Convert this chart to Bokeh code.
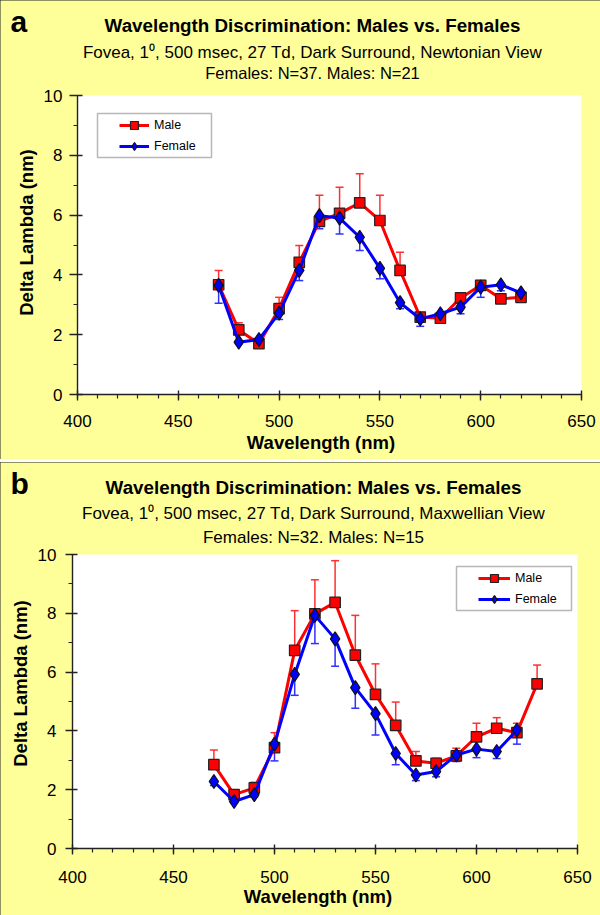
import math
from bokeh.plotting import figure
from bokeh.models import (BoxAnnotation, Legend, LegendItem, Whisker, TeeHead, Label,
                          ColumnDataSource, SingleIntervalTicker, Range1d)
from bokeh.layouts import column
from bokeh.embed import file_html
from bokeh.resources import INLINE

# ---------------- data ----------------
wavelength_a = [470, 480, 490, 500, 510, 520, 530, 540, 550, 560, 570, 580, 590, 600, 610, 620]
male_a = [3.67, 2.16, 1.70, 2.87, 4.42, 5.79, 6.06, 6.41, 5.82, 4.15, 2.59, 2.55, 3.23, 3.65, 3.20, 3.25]
male_a_err = [0.48, 0.24, 0.05, 0.38, 0.56, 0.87, 0.87, 0.97, 0.84, 0.61, 0.10, 0.10, 0.10, 0.16, 0.05, 0.05]
female_a = [3.65, 1.75, 1.84, 2.72, 4.15, 5.98, 5.90, 5.26, 4.22, 3.07, 2.53, 2.70, 2.92, 3.59, 3.67, 3.40]
female_a_err = [0.60, 0.05, 0.05, 0.21, 0.34, 0.44, 0.53, 0.44, 0.35, 0.20, 0.25, 0.05, 0.22, 0.34, 0.20, 0.05]

wavelength_b_male = [470, 480, 490, 500, 510, 520, 530, 540, 550, 560, 570, 580, 590, 600, 610, 620, 630]
male_b = [2.85, 1.83, 2.06, 3.43, 6.74, 7.98, 8.37, 6.58, 5.24, 4.19, 2.98, 2.90, 3.15, 3.80, 4.09, 3.94, 5.60]
male_b_err = [0.50, 0.05, 0.19, 0.51, 1.35, 1.16, 1.42, 1.35, 1.04, 0.79, 0.32, 0.17, 0.26, 0.46, 0.36, 0.32, 0.64]
wavelength_b_female = [470, 480, 490, 500, 510, 520, 530, 540, 550, 560, 570, 580, 590, 600, 610, 620]
female_b = [2.28, 1.60, 1.83, 3.55, 5.92, 7.93, 7.13, 5.47, 4.59, 3.23, 2.50, 2.62, 3.18, 3.38, 3.30, 4.03]
female_b_err = [0.14, 0.05, 0.08, 0.57, 0.71, 0.96, 0.93, 0.70, 0.73, 0.38, 0.19, 0.18, 0.22, 0.29, 0.24, 0.48]

x_ticks_range = (400, 650)
y_ticks_range = (0, 10)

title_text = "Wavelength Discrimination: Males vs. Females"
subtitle_a = "Fovea, 1\u2070, 500 msec, 27 Td, Dark Surround, Newtonian View"
subtitle_b = "Fovea, 1\u2070, 500 msec, 27 Td, Dark Surround, Maxwellian View"
counts_a = "Females: N=37. Males: N=21"
counts_b = "Females: N=32. Males: N=15"
x_label = "Wavelength (nm)"
y_label = "Delta Lambda (nm)"
series_names = ["Male", "Female"]

FONT = "Liberation Sans"
YELLOW = "#ffff99"
RED = "#ff0000"
BLUE = "#0000ff"


def make_panel(letter, subtitle, counts, wl_m, ym, em, wl_f, yf, ef,
               width, height, plot_box, tick_out, ylab_standoff, xlab_standoff,
               text_pos, legend_box, legend_loc, glyph_w, counts_size):
    # plot_box: pixel box (left, top, right, bottom) of the white plotting area in this canvas
    pl, pt, pr, pb_ = plot_box
    x0, x1 = x_ticks_range
    y0, y1 = y_ticks_range
    kx = (pr - pl) / (x1 - x0)
    ky = (pb_ - pt) / (y1 - y0)
    # the frame covers the whole canvas so that every text can live inside it
    xr = Range1d(x0 - pl / kx, x1 + (width - pr) / kx)
    yr = Range1d(y0 - (height - pb_) / ky, y1 + pt / ky)

    def cy(py):          # canvas y (from top) -> screen y (from bottom)
        return height - py

    p = figure(width=width, height=height, output_backend="svg", toolbar_location=None,
               x_range=xr, y_range=yr,
               min_border_left=0, min_border_right=0, min_border_top=0, min_border_bottom=0,
               background_fill_color=YELLOW, border_fill_color=YELLOW,
               outline_line_color=None)
    p.styles = {"outline": "2px solid #222222", "outline-offset": "-2px"}
    p.grid.visible = False

    # white plotting area
    p.add_layout(BoxAnnotation(left=x0, right=x1, bottom=y0, top=y1, fill_color="white",
                               fill_alpha=1.0, line_color=None, level="image"))

    p.xaxis.ticker = SingleIntervalTicker(interval=50, num_minor_ticks=5)
    p.yaxis.ticker = SingleIntervalTicker(interval=2, num_minor_ticks=2)
    p.xaxis.fixed_location = y0
    p.yaxis.fixed_location = x0
    p.xaxis.bounds = (x0, x1)
    p.yaxis.bounds = (y0, y1)
    for ax in (p.xaxis[0], p.yaxis[0]):
        ax.axis_line_color = "#222222"
        ax.axis_line_width = 1.4
        ax.major_tick_line_color = "#222222"
        ax.major_tick_line_width = 1.4
        ax.minor_tick_line_color = "#222222"
        ax.minor_tick_line_width = 1.2
        ax.major_label_text_font = FONT
        ax.major_label_text_font_size = "17px"
        ax.major_label_text_color = "black"
        ax.minor_tick_in = 0
        ax.minor_tick_out = 4
    p.yaxis.major_tick_out = tick_out
    p.yaxis.major_tick_in = 5
    p.yaxis.major_label_standoff = ylab_standoff
    p.xaxis.major_tick_out = 6
    p.xaxis.major_tick_in = 4
    p.xaxis.major_label_standoff = xlab_standoff

    # error bars
    src_m = ColumnDataSource(dict(x=wl_m, y=ym, up=[a + b for a, b in zip(ym, em)]))
    src_f = ColumnDataSource(dict(x=wl_f, y=yf, lo=[a - b for a, b in zip(yf, ef)]))
    wm = Whisker(source=src_m, base="x", upper="up", lower="y", dimension="height",
                 line_color="#ff3030", line_width=1.5,
                 upper_head=TeeHead(size=8, line_color="#ff3030", line_width=1.5),
                 lower_head=None)
    wf = Whisker(source=src_f, base="x", upper="y", lower="lo", dimension="height",
                 line_color="#3030ff", line_width=1.5,
                 lower_head=TeeHead(size=8, line_color="#3030ff", line_width=1.5),
                 upper_head=None)
    p.add_layout(wm)
    p.add_layout(wf)

    lm = p.line("x", "y", source=src_m, line_color=RED, line_width=3)
    sm = p.scatter("x", "y", source=src_m, marker="square", size=10.5, fill_color=RED,
                   line_color="#222222", line_width=1.2)
    lf = p.line("x", "y", source=src_f, line_color=BLUE, line_width=3)
    sf = p.scatter("x", "y", source=src_f, marker="diamond", size=14, fill_color=BLUE,
                   line_color="#111111", line_width=1.2)

    # legend box + legend
    lx0, ly0, lx1, ly1 = legend_box
    p.add_layout(BoxAnnotation(left=lx0, right=lx1, top=cy(ly0), bottom=cy(ly1),
                               left_units="screen", right_units="screen",
                               top_units="screen", bottom_units="screen",
                               fill_color="white", fill_alpha=1.0,
                               line_color="#111111", line_width=1.5))
    gx, gy = legend_loc
    legend = Legend(items=[LegendItem(label=series_names[0], renderers=[lm, sm]),
                           LegendItem(label=series_names[1], renderers=[lf, sf])],
                    location=(gx, cy(gy)), margin=0, padding=0, spacing=1,
                    glyph_width=glyph_w, glyph_height=20, label_height=20,
                    label_standoff=5, label_text_font=FONT, label_text_font_size="12.5px",
                    label_text_color="black",
                    background_fill_alpha=0, border_line_color=None)
    p.add_layout(legend)

    def lab(pos, text, size, bold=False, align="center", angle=0.0):
        p.add_layout(Label(x=pos[0], y=cy(pos[1]), x_units="screen", y_units="screen",
                           text=text, text_font=FONT, text_font_size=size,
                           text_font_style="bold" if bold else "normal",
                           text_align=align, text_baseline="middle",
                           text_color="black", angle=angle))

    t = text_pos
    lab(t["letter"], letter, "30px", bold=True, align="left")
    lab(t["title"], title_text, "18.8px", bold=True)
    lab(t["sub"], subtitle, "17px")
    lab(t["counts"], counts, counts_size)
    lab(t["ylab"], y_label, "18.5px", bold=True, angle=math.pi / 2)
    lab(t["xlab"], x_label, "18.5px", bold=True)
    return p


pa = make_panel("a", subtitle_a, counts_a, wavelength_a, male_a, male_a_err,
                wavelength_a, female_a, female_a_err,
                width=600, height=459, plot_box=(77, 95, 581, 394),
                tick_out=8, ylab_standoff=7, xlab_standoff=14,
                text_pos=dict(letter=(10, 21), title=(312, 25), sub=(312, 52),
                              counts=(312, 72.5), ylab=(26, 232), xlab=(320.5, 441.5)),
                legend_box=(97, 113, 211, 157), legend_loc=(119, 156), glyph_w=30,
                counts_size="16.5px")

pb = make_panel("b", subtitle_b, counts_b, wavelength_b_male, male_b, male_b_err,
                wavelength_b_female, female_b, female_b_err,
                width=600, height=453, plot_box=(72, 92, 577, 386),
                tick_out=7, ylab_standoff=9, xlab_standoff=16,
                text_pos=dict(letter=(10, 21), title=(313, 25), sub=(313, 51),
                              counts=(313, 75), ylab=(20, 221), xlab=(317.5, 434)),
                legend_box=(456, 104, 571, 148), legend_loc=(478, 146.5), glyph_w=32,
                counts_size="17px")

layout = column(pa, pb, spacing=3)
open("out.html", "w").write(file_html(layout, INLINE))
